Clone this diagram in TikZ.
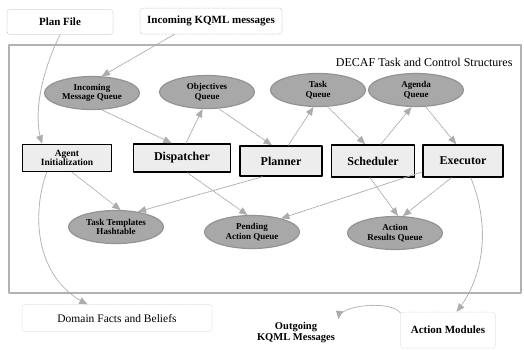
\documentclass[tikz,border=0pt]{standalone}
\usepackage{fontspec}
\setmainfont{Liberation Serif}
\usetikzlibrary{arrows}
\usetikzlibrary{arrows.meta,calc,shapes.geometric}

\begin{document}
\begin{tikzpicture}[line cap=round,line join=round,>=triangle 45,x=1pt,y=-1pt,
    queue/.style={ellipse,draw=gray!85,line width=1.2pt,fill=gray!68,minimum width=95pt,minimum height=33pt,inner sep=0pt,align=center,font=\fontsize{9}{9.5}\selectfont\bfseries},
    module/.style={rectangle,draw=black,line width=1.6pt,fill=gray!14,minimum height=28pt,inner sep=2pt,align=center,font=\fontsize{12}{11}\selectfont\bfseries},
    extbox/.style={rectangle,rounded corners=3pt,draw=gray!55,densely dotted,line width=0.5pt,align=center},
    flow/.style={->,draw=gray!65,densely dotted,line width=0.9pt}]
                \useasboundingbox (0,0) rectangle (524,349);
                \draw [gray!60,line width=2.2pt] (9,45) rectangle (521,293);
                \node (title) [anchor=east,font=\fontsize{12}{12}\selectfont] at (516,62) {DECAF Task and Control Structures};
                \node (planfile) [extbox,minimum width=106pt,minimum height=25pt,font=\fontsize{11}{11}\selectfont\bfseries] at (60,22) {Plan File};
                \node (inkqml) [extbox,minimum width=142pt,minimum height=26pt,font=\fontsize{11}{11}\selectfont\bfseries] at (211,21) {Incoming KQML messages};
                \node (inq) [queue] at (92,93) {Incoming\\Message Queue};
                \node (objq) [queue] at (207,92) {Objectives\\Queue};
                \node (taskq) [queue] at (318,90) {Task\\Queue};
                \node (agendaq) [queue] at (416,90) {Agenda\\Queue};
                \node (agentinit) [module,minimum width=89pt,minimum height=27pt,font=\fontsize{9.5}{9.5}\selectfont\bfseries] at (67,158) {Agent\\Initialization};
                \node (dispatcher) [module,minimum width=97pt] at (182,158) {Dispatcher};
                \node (planner) [module,minimum width=82pt,minimum height=30pt] at (281,161) {Planner};
                \node (scheduler) [module,minimum width=83pt,minimum height=32pt] at (373,161) {Scheduler};
                \node (executor) [module,minimum width=80pt,minimum height=32pt] at (463,161) {Executor};
                \node (templates) [queue] at (116,227) {Task Templates\\Hashtable};
                \node (pending) [queue] at (252,232) {Pending\\Action Queue};
                \node (results) [queue] at (395,233) {Action\\Results Queue};
                \node (domain) [extbox,draw=gray!35,minimum width=190pt,minimum height=27pt,font=\fontsize{11.5}{11.5}\selectfont] at (117,318) {Domain Facts and Beliefs};
                \node (outkqml) [align=center,font=\fontsize{10.5}{11}\selectfont\bfseries] at (296,333) {Outgoing\\KQML Messages};
                \node (actmod) [extbox,draw=gray!35,minimum width=95pt,minimum height=36pt,font=\fontsize{11}{11}\selectfont\bfseries] at (448,330) {Action Modules};
                \draw [flow] (planfile.south) .. controls (38,80) and (34,120) .. (agentinit.150);
                \draw [flow] (inkqml.200) -- (inq.60);
                \draw [flow] (inq.-60) -- (dispatcher.125);
                \draw [flow] (dispatcher.75) -- (objq.-105);
                \draw [flow] (objq.-55) -- (planner.120);
                \draw [flow] (planner.65) -- (taskq.-105);
                \draw [flow] (taskq.-60) -- (scheduler.115);
                \draw [flow] (scheduler.65) -- (agendaq.-105);
                \draw [flow] (agendaq.-60) -- (executor.112);
                \draw [flow] (agentinit.-70) -- (templates.75);
                \draw [flow] (planner.-140) -- (templates.35);
                \draw [flow] (dispatcher.-70) -- (pending.105);
                \draw [flow] (executor.-165) -- (pending.25);
                \draw [flow] (scheduler.-100) -- (results.80);
                \draw [flow] (executor.-125) -- (results.65);
                \draw [flow] (executor.-65) .. controls (492,230) and (482,280) .. (actmod.65);
                \draw [flow] (agentinit.-145) .. controls (30,220) and (38,280) .. (domain.155);
                \draw [flow] (actmod.160) .. controls (390,300) and (340,305) .. (outkqml.north east);
\end{tikzpicture}
\end{document}
